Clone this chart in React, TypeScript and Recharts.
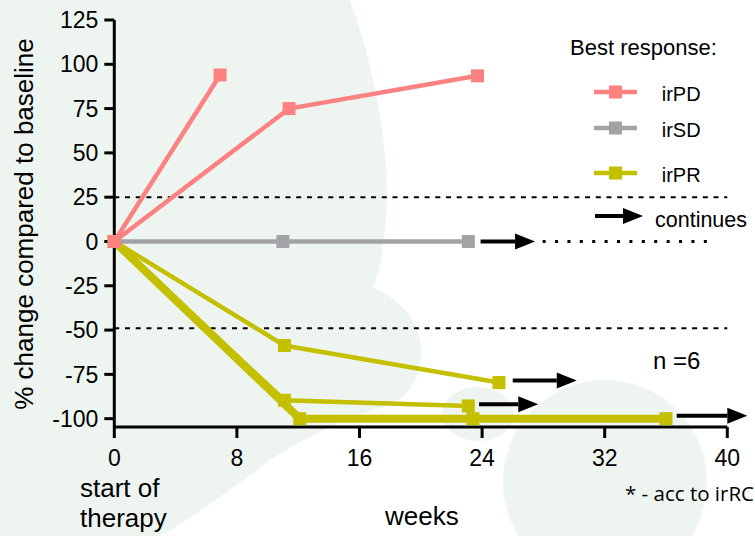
import React from "react";
import { LineChart, Line, XAxis, YAxis, ReferenceLine, Legend } from "recharts";

// axis ticks
const weekTicks = [0, 8, 16, 24, 32, 40];
const changeTicks = [-100, -75, -50, -25, 0, 25, 50, 75, 100, 125];
const thresholds = [25, -49];

// patients, % change vs weeks
const pdPatientA = [
  { week: 0, change: 0 },
  { week: 6.9, change: 94 },
];
const pdPatientB = [
  { week: 0, change: 0 },
  { week: 11.4, change: 75 },
  { week: 23.7, change: 93.5 },
];
const sdPatientA = [
  { week: 0, change: 0 },
  { week: 11, change: 0 },
  { week: 23.1, change: 0 },
];
const prPatientA = [
  { week: 0, change: 0 },
  { week: 11.1, change: -58.7 },
  { week: 25.1, change: -79.6 },
];
const prPatientB = [
  { week: 0, change: 0 },
  { week: 11.1, change: -89.6 },
  { week: 23.1, change: -92.8 },
];
const prPatientC = [
  { week: 0, change: 0 },
  { week: 12.1, change: -100 },
  { week: 23.4, change: -100 },
  { week: 36, change: -100 },
];

// "continues" arrows (start of shaft, base of head)
const sdContinues = [
  { week: 23.9, change: 0 },
  { week: 26.15, change: 0 },
];
const sdFollowUp = [
  { week: 27.95, change: 0 },
  { week: 39.2, change: 0 },
];
const prContinuesA = [
  { week: 26.0, change: -78.5 },
  { week: 28.87, change: -78.5 },
];
const prContinuesB = [
  { week: 23.8, change: -91.8 },
  { week: 26.36, change: -91.8 },
];
const prContinuesC = [
  { week: 36.7, change: -98.4 },
  { week: 40, change: -98.4 },
];

const groups = [
  { name: "irPD", color: "#fc8282" },
  { name: "irSD", color: "#a3a2a7" },
  { name: "irPR", color: "#c4c000" },
];
const [PD, SD, PR] = groups.map((g) => g.color);

const FONT = "'Liberation Sans', Arial, sans-serif";
const BG = "#eef5f0";

const squareDot = (color: string) => (props: any) => {
  const { cx, cy, index } = props;
  if (cx == null || cy == null) return <g key={`d-${index}`} />;
  return <rect key={`d-${index}`} x={cx - 6.5} y={cy - 6.5} width={13} height={13} fill={color} />;
};

const arrowHead = (props: any) => {
  const { cx, cy, index } = props;
  if (index !== 1 || cx == null) return <g key={`a-${index}`} />;
  return (
    <polygon
      key={`a-${index}`}
      points={`${cx},${cy - 8} ${cx + 20},${cy} ${cx},${cy + 8}`}
      fill="#000"
    />
  );
};

const renderLegend = () => (
  <svg width={190} height={215} style={{ overflow: "visible" }}>
    <text x={5} y={30} fontSize={22} fontFamily={FONT} fill="#000">
      Best response:
    </text>
    {groups.map((g, i) => {
      const y = [67, 103, 148][i];
      return (
        <g key={g.name}>
          <line x1={29} x2={72} y1={y} y2={y} stroke={g.color} strokeWidth={4.5} />
          <rect x={44} y={y - 6.5} width={13} height={13} fill={g.color} />
          <text x={96.7} y={y + 8.5} fontSize={20} fontFamily={FONT} fill="#000">
            {g.name}
          </text>
        </g>
      );
    })}
    <line x1={30} x2={59} y1={191} y2={191} stroke="#000" strokeWidth={4} />
    <polygon points="58,183 78,191 58,199" fill="#000" />
    <text x={90} y={201.7} fontSize={21.5} fontFamily={FONT} fill="#000">
      continues
    </text>
  </svg>
);

const tickStyle = { fill: "#000", fontSize: 23, fontFamily: FONT };
const axisStroke = { stroke: "#000", strokeWidth: 3 };

export default function App() {
  return (
    <div style={{ position: "absolute", left: 0, top: 0, width: 755, height: 536, background: "#fff", overflow: "hidden" }}>
      <svg width={755} height={536} style={{ position: "absolute", left: 0, top: 0 }}>
        <path
          d="M0,0 L350,0 C372,60 392,150 386,220 C383,255 378,275 373,288 C405,300 425,330 421,360 C417,390 400,403 380,408 C340,420 300,440 270,460 C230,490 190,520 160,536 L0,536 Z"
          fill={BG}
        />
        <circle cx={605} cy={482} r={102} fill={BG} />
        <ellipse cx={478} cy={414} rx={36} ry={27} fill={BG} />
      </svg>
      <div style={{ position: "absolute", left: 0, top: 0 }}>
        <LineChart width={755} height={536} margin={{ top: 20, right: 27.7, bottom: 49, left: 0 }}>
          <XAxis
            type="number"
            dataKey="week"
            domain={[0, 40]}
            ticks={weekTicks}
            tick={tickStyle}
            tickSize={11}
            tickMargin={12}
            height={60}
            axisLine={axisStroke}
            tickLine={axisStroke}
          />
          <YAxis
            type="number"
            dataKey="change"
            domain={[-104.7, 125]}
            ticks={changeTicks}
            tick={tickStyle}
            tickSize={10}
            tickMargin={6}
            width={114.3}
            axisLine={axisStroke}
            tickLine={axisStroke}
          />
          {thresholds.map((t) => (
            <ReferenceLine key={t} y={t} stroke="#000" strokeWidth={2} strokeDasharray="5 5.7" />
          ))}
          <Legend
            layout="vertical"
            align="center"
            verticalAlign="middle"
            content={renderLegend}
            wrapperStyle={{ left: 565, top: 25, width: 190, height: 215 }}
          />

          <Line data={sdFollowUp} dataKey="change" stroke="#000" strokeWidth={3} strokeDasharray="3 9.4" dot={false} isAnimationActive={false} legendType="none" />
          <Line data={sdContinues} dataKey="change" stroke="#000" strokeWidth={4} dot={arrowHead} isAnimationActive={false} legendType="none" />
          <Line data={prContinuesA} dataKey="change" stroke="#000" strokeWidth={4} dot={arrowHead} isAnimationActive={false} legendType="none" />
          <Line data={prContinuesB} dataKey="change" stroke="#000" strokeWidth={4} dot={arrowHead} isAnimationActive={false} legendType="none" />
          <Line data={prContinuesC} dataKey="change" stroke="#000" strokeWidth={4} dot={arrowHead} isAnimationActive={false} legendType="none" />

          <Line data={prPatientC} dataKey="change" name="irPR" stroke={PR} strokeWidth={8} dot={squareDot(PR)} isAnimationActive={false} />
          <Line data={prPatientB} dataKey="change" stroke={PR} strokeWidth={4.5} dot={squareDot(PR)} isAnimationActive={false} legendType="none" />
          <Line data={prPatientA} dataKey="change" stroke={PR} strokeWidth={4.5} dot={squareDot(PR)} isAnimationActive={false} legendType="none" />
          <Line data={sdPatientA} dataKey="change" name="irSD" stroke={SD} strokeWidth={4.5} dot={squareDot(SD)} isAnimationActive={false} />
          <Line data={pdPatientB} dataKey="change" name="irPD" stroke={PD} strokeWidth={4.5} dot={squareDot(PD)} isAnimationActive={false} />
          <Line data={pdPatientA} dataKey="change" stroke={PD} strokeWidth={4.5} dot={squareDot(PD)} isAnimationActive={false} legendType="none" />
        </LineChart>
      </div>
      <svg width={755} height={536} style={{ position: "absolute", left: 0, top: 0, pointerEvents: "none" }}>
        <text x={33} y={224} transform="rotate(-90 33 224)" textAnchor="middle" fontSize={26} fontFamily={FONT} fill="#000">
          % change compared to baseline
        </text>
        <text x={80} y={496.7} fontSize={26} fontFamily={FONT} fill="#000">start of</text>
        <text x={80} y={526.7} fontSize={26} fontFamily={FONT} fill="#000">therapy</text>
        <text x={385} y={525} fontSize={26} fontFamily={FONT} fill="#000">weeks</text>
        <text x={653} y={368.7} fontSize={24} fontFamily={FONT} fill="#000">n =6</text>
        <text x={625} y={501} fontSize={20.5} fontFamily="'Open Sans', sans-serif" fill="#000">* - acc to irRC</text>
      </svg>
    </div>
  );
}
